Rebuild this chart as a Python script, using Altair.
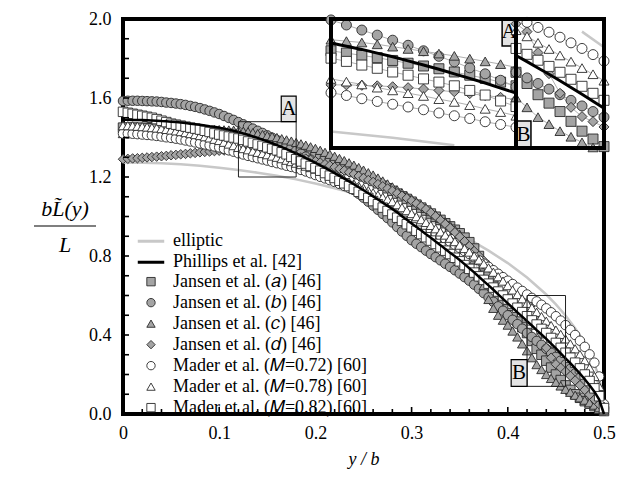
import altair as alt
import pandas as pd

# ---------------- data ----------------
X_GRID = [
    0.000, 0.005, 0.010, 0.015, 0.020, 0.025, 0.030, 0.035, 0.040, 0.045,
    0.050, 0.055, 0.060, 0.065, 0.070, 0.075, 0.080, 0.085, 0.090, 0.095,
    0.100, 0.105, 0.110, 0.115, 0.120, 0.125, 0.130, 0.135, 0.140, 0.145,
    0.150, 0.155, 0.160, 0.165, 0.170, 0.175, 0.180, 0.185, 0.190, 0.195,
    0.200, 0.205, 0.210, 0.215, 0.220, 0.225, 0.230, 0.235, 0.240, 0.245,
    0.250, 0.255, 0.260, 0.265, 0.270, 0.275, 0.280, 0.285, 0.290, 0.295,
    0.300, 0.305, 0.310, 0.315, 0.320, 0.325, 0.330, 0.335, 0.340, 0.345,
    0.350, 0.355, 0.360, 0.365, 0.370, 0.375, 0.380, 0.385, 0.390, 0.395,
    0.400, 0.405, 0.410, 0.415, 0.420, 0.425, 0.430, 0.435, 0.440, 0.445,
    0.450, 0.455, 0.460, 0.465, 0.470, 0.475, 0.480, 0.485, 0.490, 0.495,
    0.500]

ELL_X = [0.00, 0.02, 0.04, 0.06, 0.08, 0.10, 0.12, 0.14, 0.16, 0.18, 0.20,
         0.22, 0.24, 0.26, 0.28, 0.30, 0.32, 0.34, 0.36, 0.38, 0.40, 0.42,
         0.44, 0.45, 0.46, 0.47, 0.48, 0.485, 0.49, 0.495, 0.498, 0.50]
ELL_Y = [1.273, 1.272, 1.269, 1.264, 1.257, 1.247, 1.236, 1.222, 1.206, 1.188,
         1.167, 1.143, 1.117, 1.088, 1.055, 1.019, 0.978, 0.934, 0.884, 0.827,
         0.764, 0.691, 0.605, 0.555, 0.499, 0.434, 0.357, 0.310, 0.253, 0.180,
         0.114, 0.000]

PHILLIPS = [
    1.490, 1.490, 1.489, 1.489, 1.488, 1.487, 1.486, 1.485, 1.483, 1.482,
    1.480, 1.478, 1.476, 1.473, 1.470, 1.467, 1.464, 1.461, 1.457, 1.454,
    1.450, 1.445, 1.440, 1.434, 1.428, 1.421, 1.414, 1.406, 1.398, 1.389,
    1.380, 1.371, 1.361, 1.351, 1.341, 1.330, 1.319, 1.308, 1.296, 1.284,
    1.272, 1.259, 1.246, 1.233, 1.220, 1.206, 1.192, 1.178, 1.163, 1.148,
    1.133, 1.118, 1.102, 1.086, 1.070, 1.054, 1.038, 1.021, 1.001, 0.983,
    0.965, 0.947, 0.929, 0.910, 0.892, 0.873, 0.855, 0.836, 0.817, 0.799,
    0.780, 0.759, 0.738, 0.717, 0.695, 0.673, 0.651, 0.629, 0.606, 0.583,
    0.560, 0.538, 0.515, 0.493, 0.470, 0.448, 0.425, 0.403, 0.380, 0.356,
    0.332, 0.307, 0.282, 0.257, 0.231, 0.204, 0.176, 0.146, 0.113, 0.073,
    0.000]

JANSEN_A = [
    1.450, 1.450, 1.450, 1.449, 1.449, 1.448, 1.447, 1.446, 1.445, 1.444,
    1.443, 1.441, 1.440, 1.438, 1.436, 1.434, 1.432, 1.430, 1.428, 1.427,
    1.425, 1.422, 1.419, 1.415, 1.411, 1.406, 1.401, 1.396, 1.390, 1.384,
    1.378, 1.372, 1.365, 1.358, 1.351, 1.343, 1.335, 1.327, 1.318, 1.309,
    1.300, 1.291, 1.283, 1.274, 1.265, 1.255, 1.245, 1.235, 1.225, 1.214,
    1.203, 1.192, 1.180, 1.168, 1.156, 1.143, 1.130, 1.116, 1.102, 1.089,
    1.075, 1.060, 1.045, 1.030, 1.015, 0.999, 0.983, 0.966, 0.950, 0.933,
    0.915, 0.893, 0.870, 0.838, 0.800, 0.752, 0.700, 0.650, 0.600, 0.563,
    0.530, 0.500, 0.470, 0.440, 0.410, 0.370, 0.330, 0.300, 0.270, 0.235,
    0.200, 0.172, 0.145, 0.122, 0.100, 0.082, 0.065, 0.052, 0.040, 0.027,
    0.015]

JANSEN_B = [
    1.585, 1.586, 1.586, 1.586, 1.585, 1.584, 1.583, 1.582, 1.580, 1.577,
    1.575, 1.572, 1.569, 1.565, 1.560, 1.555, 1.549, 1.542, 1.535, 1.527,
    1.519, 1.509, 1.499, 1.489, 1.478, 1.467, 1.456, 1.445, 1.434, 1.423,
    1.411, 1.399, 1.387, 1.374, 1.361, 1.347, 1.333, 1.318, 1.303, 1.288,
    1.273, 1.257, 1.241, 1.224, 1.207, 1.190, 1.172, 1.154, 1.135, 1.115,
    1.095, 1.075, 1.055, 1.034, 1.013, 0.992, 0.970, 0.947, 0.924, 0.902,
    0.880, 0.862, 0.845, 0.827, 0.810, 0.794, 0.778, 0.761, 0.745, 0.728,
    0.711, 0.693, 0.675, 0.655, 0.634, 0.612, 0.590, 0.568, 0.545, 0.523,
    0.500, 0.477, 0.455, 0.432, 0.410, 0.390, 0.370, 0.350, 0.330, 0.310,
    0.290, 0.270, 0.250, 0.228, 0.205, 0.183, 0.160, 0.135, 0.110, 0.075,
    0.030]

JANSEN_C = [
    1.420, 1.422, 1.424, 1.426, 1.428, 1.430, 1.432, 1.433, 1.435, 1.436,
    1.437, 1.438, 1.439, 1.439, 1.440, 1.440, 1.440, 1.440, 1.440, 1.440,
    1.440, 1.439, 1.438, 1.437, 1.435, 1.432, 1.429, 1.425, 1.420, 1.415,
    1.410, 1.405, 1.400, 1.394, 1.388, 1.382, 1.375, 1.368, 1.361, 1.353,
    1.345, 1.335, 1.325, 1.315, 1.305, 1.294, 1.283, 1.272, 1.260, 1.248,
    1.235, 1.222, 1.210, 1.195, 1.180, 1.165, 1.150, 1.135, 1.120, 1.105,
    1.090, 1.074, 1.058, 1.041, 1.025, 1.008, 0.990, 0.973, 0.955, 0.933,
    0.910, 0.878, 0.840, 0.780, 0.720, 0.650, 0.580, 0.535, 0.500, 0.475,
    0.450, 0.420, 0.390, 0.355, 0.320, 0.285, 0.250, 0.225, 0.200, 0.180,
    0.160, 0.142, 0.125, 0.110, 0.095, 0.082, 0.070, 0.057, 0.045, 0.032,
    0.020]

JANSEN_D = [
    1.290, 1.292, 1.294, 1.295, 1.297, 1.299, 1.301, 1.303, 1.305, 1.307,
    1.310, 1.312, 1.315, 1.317, 1.320, 1.322, 1.325, 1.327, 1.329, 1.331,
    1.333, 1.334, 1.335, 1.336, 1.337, 1.337, 1.336, 1.335, 1.333, 1.331,
    1.328, 1.325, 1.322, 1.318, 1.314, 1.310, 1.305, 1.299, 1.293, 1.287,
    1.280, 1.273, 1.265, 1.258, 1.250, 1.241, 1.233, 1.224, 1.215, 1.205,
    1.195, 1.185, 1.175, 1.164, 1.153, 1.142, 1.130, 1.118, 1.105, 1.093,
    1.080, 1.066, 1.052, 1.037, 1.020, 1.001, 0.982, 0.962, 0.942, 0.920,
    0.898, 0.875, 0.850, 0.825, 0.800, 0.776, 0.752, 0.728, 0.705, 0.682,
    0.660, 0.640, 0.620, 0.601, 0.583, 0.555, 0.480, 0.405, 0.335, 0.285,
    0.252, 0.234, 0.215, 0.193, 0.170, 0.146, 0.122, 0.098, 0.073, 0.049,
    0.025]

MADER_72 = [
    1.420, 1.420, 1.419, 1.417, 1.415, 1.413, 1.411, 1.408, 1.405, 1.401,
    1.398, 1.394, 1.390, 1.385, 1.380, 1.375, 1.370, 1.365, 1.360, 1.355,
    1.350, 1.343, 1.335, 1.328, 1.320, 1.314, 1.307, 1.301, 1.295, 1.289,
    1.283, 1.276, 1.270, 1.264, 1.257, 1.251, 1.245, 1.236, 1.228, 1.219,
    1.210, 1.201, 1.193, 1.184, 1.175, 1.165, 1.155, 1.145, 1.135, 1.124,
    1.113, 1.101, 1.090, 1.078, 1.065, 1.053, 1.040, 1.026, 1.013, 0.999,
    0.985, 0.971, 0.958, 0.944, 0.930, 0.916, 0.902, 0.887, 0.872, 0.856,
    0.841, 0.825, 0.810, 0.794, 0.778, 0.761, 0.745, 0.728, 0.710, 0.693,
    0.675, 0.658, 0.640, 0.623, 0.605, 0.588, 0.570, 0.553, 0.535, 0.515,
    0.495, 0.473, 0.450, 0.426, 0.400, 0.371, 0.340, 0.302, 0.260, 0.190,
    0.050]

MADER_78 = [
    1.460, 1.460, 1.459, 1.457, 1.455, 1.453, 1.450, 1.448, 1.445, 1.441,
    1.438, 1.434, 1.430, 1.425, 1.420, 1.415, 1.410, 1.404, 1.398, 1.391,
    1.385, 1.376, 1.367, 1.359, 1.350, 1.344, 1.338, 1.331, 1.325, 1.319,
    1.313, 1.306, 1.300, 1.293, 1.285, 1.278, 1.270, 1.263, 1.255, 1.248,
    1.240, 1.231, 1.223, 1.214, 1.205, 1.195, 1.185, 1.175, 1.165, 1.154,
    1.143, 1.131, 1.120, 1.108, 1.097, 1.086, 1.075, 1.060, 1.045, 1.030,
    1.015, 0.999, 0.984, 0.970, 0.955, 0.938, 0.922, 0.906, 0.890, 0.873,
    0.855, 0.838, 0.820, 0.800, 0.780, 0.760, 0.740, 0.718, 0.695, 0.673,
    0.650, 0.628, 0.605, 0.583, 0.560, 0.538, 0.515, 0.493, 0.470, 0.448,
    0.425, 0.403, 0.380, 0.355, 0.330, 0.301, 0.270, 0.233, 0.190, 0.140,
    0.040]

MADER_82 = [
    1.530, 1.525, 1.520, 1.515, 1.510, 1.505, 1.500, 1.493, 1.485, 1.478,
    1.470, 1.465, 1.460, 1.455, 1.450, 1.445, 1.440, 1.434, 1.428, 1.421,
    1.415, 1.410, 1.405, 1.400, 1.395, 1.388, 1.380, 1.373, 1.365, 1.358,
    1.350, 1.343, 1.335, 1.325, 1.315, 1.302, 1.290, 1.279, 1.268, 1.256,
    1.245, 1.232, 1.220, 1.207, 1.195, 1.181, 1.168, 1.154, 1.140, 1.125,
    1.110, 1.094, 1.078, 1.062, 1.045, 1.028, 1.010, 0.994, 0.978, 0.961,
    0.945, 0.928, 0.911, 0.895, 0.878, 0.861, 0.844, 0.827, 0.810, 0.791,
    0.773, 0.754, 0.735, 0.716, 0.697, 0.679, 0.660, 0.640, 0.620, 0.600,
    0.580, 0.559, 0.538, 0.516, 0.495, 0.474, 0.453, 0.431, 0.410, 0.385,
    0.360, 0.335, 0.310, 0.285, 0.260, 0.231, 0.200, 0.167, 0.130, 0.090,
    0.030]

LINE_NAMES = ["elliptic", "Phillips et al. [42]"]
SERIES = ["Jansen et al. (\U0001D44E) [46]", "Jansen et al. (\U0001D44F) [46]",
          "Jansen et al. (\U0001D450) [46]", "Jansen et al. (\U0001D451) [46]",
          "Mader et al. (\U0001D440=0.72) [60]", "Mader et al. (\U0001D440=0.78) [60]",
          "Mader et al. (\U0001D440=0.82) [60]"]
SERIES_VALUES = [JANSEN_A, JANSEN_B, JANSEN_C, JANSEN_D, MADER_72, MADER_78, MADER_82]
SHAPES = ["square", "circle", "triangle-up", "diamond", "circle", "triangle-up", "square"]
GRAY, WHITE, EDGE = "#a4a4a4", "#ffffff", "#2a2a2a"
FILLS = [GRAY, GRAY, GRAY, GRAY, WHITE, WHITE, WHITE]
EDGES = [EDGE] * 7

X_TICKS_MAJOR = [0.1, 0.2, 0.3, 0.4]
X_TICKS_MINOR = [0.02, 0.04, 0.06, 0.08, 0.12, 0.14, 0.16, 0.18, 0.22, 0.24, 0.26, 0.28,
                 0.32, 0.34, 0.36, 0.38, 0.42, 0.44, 0.46, 0.48]
Y_TICKS = [0.1, 0.2, 0.3, 0.4, 0.5, 0.6, 0.7, 0.8, 0.9, 1.0, 1.1, 1.2, 1.3, 1.4,
           1.5, 1.6, 1.7, 1.8, 1.9]

# zoom boxes: [x0, x1, y0, y1]
BOX_A = [0.12, 0.18, 1.20, 1.48]
BOX_B = [0.42, 0.46, 0.14, 0.60]

# ---------------- tables ----------------
pts = pd.DataFrame([
    {"x": xv, "y": yv, "series": s}
    for s, vals in zip(SERIES, SERIES_VALUES) for xv, yv in zip(X_GRID, vals)
])
ell = pd.DataFrame({"x": ELL_X, "y": ELL_Y, "name": LINE_NAMES[0]})
phil = pd.DataFrame({"x": X_GRID, "y": PHILLIPS, "name": LINE_NAMES[1]})

W, H = 481, 395
FONT = "Liberation Serif"

main_xs = alt.Scale(domain=[0, 0.5], nice=False, zero=False)
main_ys = alt.Scale(domain=[0, 2.0], nice=False, zero=False)
x_axis = alt.Axis(values=[0, 0.1, 0.2, 0.3, 0.4, 0.5],
                  labelExpr="datum.value == 0 ? '0' : format(datum.value, '.1f')",
                  ticks=False, domain=False, grid=False, labelFlush=False,
                  labelFont=FONT, labelFontSize=18, labelColor="black", labelPadding=10,
                  title="y / b", titleFont=FONT, titleFontSize=18, titleFontStyle="italic",
                  titleFontWeight="normal", titleColor="black", titlePadding=8)
y_axis = alt.Axis(values=[0, 0.4, 0.8, 1.2, 1.6, 2.0], format=".1f",
                  ticks=False, domain=False, grid=False, labelFlush=False,
                  labelFont=FONT, labelFontSize=18, labelColor="black", labelPadding=12,
                  title=None)
X = alt.X("x:Q", scale=main_xs, axis=x_axis)
Y = alt.Y("y:Q", scale=main_ys, axis=y_axis)

line_scale = alt.Scale(domain=LINE_NAMES, range=["#c8c8c8", "#000000"])
line_legend = alt.Legend(orient="none", legendX=13, legendY=212, title=None,
                         symbolType="stroke", symbolSize=700, symbolStrokeWidth=3,
                         labelFont=FONT, labelFontSize=18, labelColor="black",
                         labelOffset=7, labelLimit=400, clipHeight=20.3, rowPadding=0,
                         padding=0, symbolOffset=0)
shape_scale = alt.Scale(domain=SERIES, range=SHAPES)
fill_scale = alt.Scale(domain=SERIES, range=FILLS)
edge_scale = alt.Scale(domain=SERIES, range=EDGES)
pt_legend = alt.Legend(orient="none", legendX=19, legendY=252.5, title=None,
                       symbolSize=70, symbolStrokeColor=EDGE, symbolStrokeWidth=0.9,
                       labelFont=FONT, labelFontSize=18, labelColor="black",
                       labelOffset=13, labelLimit=400, clipHeight=20.3, rowPadding=0,
                       padding=0, symbolOffset=0)

boxes = pd.DataFrame({"x": [BOX_A[0], BOX_B[0]], "x2": [BOX_A[1], BOX_B[1]],
                      "y": [BOX_A[2], BOX_B[2]], "y2": [BOX_A[3], BOX_B[3]]})
labels_main = pd.DataFrame({"x": [0.1645, 0.4035], "x2": [0.18, 0.42],
                            "y": [1.48, 0.14], "y2": [1.61, 0.275], "lab": ["A", "B"]})
labels_main["xm"] = (labels_main.x + labels_main.x2) / 2
labels_main["ym"] = (labels_main.y + labels_main.y2) / 2

# ---------------- main panel ----------------
m_ell = alt.Chart(ell).mark_line(strokeWidth=2.5).encode(
    x=X, y=Y, color=alt.Color("name:N", scale=line_scale, legend=line_legend))
m_conn = alt.Chart(pts).mark_line(color="#b0b0b0", strokeWidth=1).encode(
    x=X, y=Y, detail="series:N")
m_pts = alt.Chart(pts).mark_point(filled=True, size=90, strokeWidth=0.9, opacity=1).encode(
    x=X, y=Y,
    shape=alt.Shape("series:N", scale=shape_scale, legend=pt_legend),
    fill=alt.Fill("series:N", scale=fill_scale, legend=pt_legend),
    stroke=alt.Stroke("series:N", scale=edge_scale, legend=pt_legend))
m_phil = alt.Chart(phil).mark_line(strokeWidth=2.5).encode(
    x=X, y=Y, color=alt.Color("name:N", scale=line_scale, legend=line_legend))
m_boxes = alt.Chart(boxes).mark_rect(fill="transparent", stroke="#222222",
                                     strokeWidth=1).encode(
    x=X, x2="x2:Q", y=Y, y2="y2:Q")
m_lab_box = alt.Chart(labels_main).mark_rect(fill="#e4e4e4", stroke="black",
                                             strokeWidth=1.2).encode(
    x=X, x2="x2:Q", y=Y, y2="y2:Q")
m_lab_txt = alt.Chart(labels_main).mark_text(font=FONT, fontSize=21, color="black",
                                             baseline="middle", align="center").encode(
    x=alt.X("xm:Q", scale=main_xs, axis=x_axis), y=alt.Y("ym:Q", scale=main_ys, axis=y_axis),
    text="lab:N")

xt_major = alt.Chart(pd.DataFrame({"x": X_TICKS_MAJOR})).mark_rule(
    color="black", strokeWidth=1.6).encode(x=X, y=alt.value(H), y2=alt.value(H - 7))
xt_minor = alt.Chart(pd.DataFrame({"x": X_TICKS_MINOR})).mark_rule(
    color="black", strokeWidth=1.6).encode(x=X, y=alt.value(H), y2=alt.value(H - 5))
yt = alt.Chart(pd.DataFrame({"y": Y_TICKS})).mark_rule(
    color="black", strokeWidth=1.6).encode(y=Y, x=alt.value(0), x2=alt.value(6))

one = pd.DataFrame({"t": ["b\u004C\u0303(y)"], "d": ["L"]})
ytitle_num = alt.Chart(one).mark_text(font=FONT, fontSize=22, fontStyle="italic",
                                      color="black", align="center", baseline="middle").encode(
    text="t:N", x=alt.value(-58), y=alt.value(190))
ytitle_den = alt.Chart(one).mark_text(font=FONT, fontSize=22, fontStyle="italic",
                                      color="black", align="center", baseline="middle").encode(
    text="d:N", x=alt.value(-58), y=alt.value(226))
ytitle_bar = alt.Chart(one).mark_rule(color="black", strokeWidth=1.2).encode(
    x=alt.value(-89), x2=alt.value(-27), y=alt.value(207))

main = alt.layer(m_ell, m_conn, m_pts, m_phil, m_boxes, m_lab_box, m_lab_txt,
                 xt_major, xt_minor, yt, ytitle_num, ytitle_den, ytitle_bar)


# ---------------- insets ----------------
def inset(box, xrange, lab_df):
    x0, x1, y0, y1 = box
    xs = alt.Scale(domain=[x0, x1], range=xrange, nice=False, zero=False)
    ys = alt.Scale(domain=[y0, y1], range=[129, 0], nice=False, zero=False)
    IX = alt.X("x:Q", scale=xs, axis=None)
    IY = alt.Y("y:Q", scale=ys, axis=None)

    def inside(df):
        return df[(df.x >= x0 - 1e-9) & (df.x <= x1 + 1e-9) & (df.y >= y0) & (df.y <= y1)]

    frame = pd.DataFrame({"x": [x0], "x2": [x1], "y": [y0], "y2": [y1]})
    bg = alt.Chart(frame).mark_rect(fill="white").encode(x=IX, x2="x2:Q", y=IY, y2="y2:Q")
    e = alt.Chart(inside(ell)).mark_line(color="#c8c8c8", strokeWidth=2.5).encode(x=IX, y=IY)
    c = alt.Chart(inside(pts)).mark_line(color="#b0b0b0", strokeWidth=1).encode(
        x=IX, y=IY, detail="series:N")
    p = alt.Chart(inside(pts)).mark_point(filled=True, size=100, strokeWidth=0.9,
                                          opacity=1).encode(
        x=IX, y=IY,
        shape=alt.Shape("series:N", scale=shape_scale, legend=None),
        fill=alt.Fill("series:N", scale=fill_scale, legend=None),
        stroke=alt.Stroke("series:N", scale=edge_scale, legend=None))
    ph = alt.Chart(inside(phil)).mark_line(color="black", strokeWidth=3).encode(x=IX, y=IY)
    fr = alt.Chart(frame).mark_rect(fill="transparent", stroke="black", strokeWidth=4).encode(
        x=IX, x2="x2:Q", y=IY, y2="y2:Q")
    lb = alt.Chart(lab_df).mark_rect(fill="#e4e4e4", stroke="black", strokeWidth=1.5).encode(
        x=IX, x2="x2:Q", y=IY, y2="y2:Q")
    lt = alt.Chart(lab_df).mark_text(font=FONT, fontSize=21, color="black",
                                     baseline="middle", align="center").encode(
        x=alt.X("xm:Q", scale=xs, axis=None), y=alt.Y("ym:Q", scale=ys, axis=None),
        text="lab:N")
    return alt.layer(bg, e, c, p, ph, lb, lt, fr)


lab_a = pd.DataFrame({"x": [0.1755], "x2": [0.18], "y": [1.4215], "y2": [1.48], "lab": ["A"]})
lab_b = pd.DataFrame({"x": [0.42], "x2": [0.4268], "y": [0.14], "y2": [0.236], "lab": ["B"]})
for d in (lab_a, lab_b):
    d["xm"] = (d.x + d.x2) / 2
    d["ym"] = (d.y + d.y2) / 2

inset_a = inset(BOX_A, [208, 393], lab_a)
inset_b = inset(BOX_B, [393, 481], lab_b)

chart = alt.layer(main, inset_a, inset_b).resolve_scale(
    x="independent", y="independent"
).properties(
    width=W, height=H,
    padding={"left": 123, "top": 19, "right": 14, "bottom": 64},
    autosize=alt.AutoSizeParams(type="none"),
).configure_view(stroke="black", strokeWidth=4)

chart.save("out.html", embed_options={"renderer": "svg", "actions": False})
